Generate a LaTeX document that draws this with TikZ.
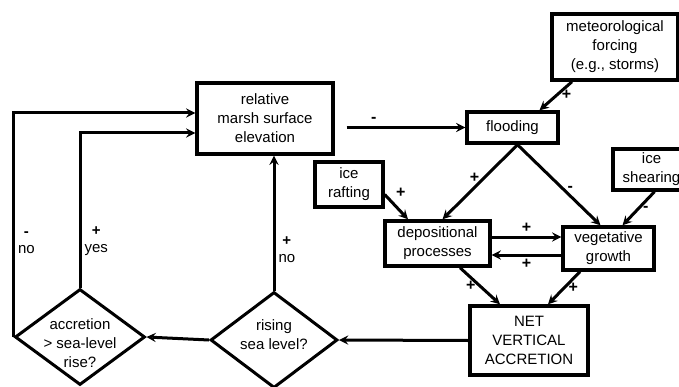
\documentclass[tikz,border=0pt]{standalone}
\usepackage{fontspec}
\setmainfont{Liberation Sans}
\usetikzlibrary{shapes.geometric}

\begin{document}
\begin{tikzpicture}[x=1pt,y=1pt,
    every node/.style={font=\fontsize{15}{19}\selectfont},
    box/.style={draw,line width=3.4pt,align=center,inner sep=0pt},
    decision/.style={draw,diamond,line width=3pt,inner sep=0pt},
    arr/.style={->,>=stealth,line width=3pt},
    sign/.style={inner sep=3pt,align=center,font=\fontsize{16}{17}\selectfont\bfseries},
    answer/.style={inner sep=3pt,align=center,font=\fontsize{15}{17}\selectfont}]
    \useasboundingbox (0,0) rectangle (679,386);
    \node[box,minimum width=136pt,minimum height=71pt] (rel) at (265,267.5) {relative\\marsh surface\\elevation};
    \node[box,minimum width=91pt,minimum height=31pt] (flood) at (512.5,258.5) {flooding};
    \node[box,minimum width=126pt,minimum height=66pt] (met) at (615,339) {meteorological\\forcing\\(e.g., storms)};
    \node[box,minimum width=68pt,minimum height=45pt] (raft) at (349,201.5) {ice\\rafting};
    \node[box,minimum width=77pt,minimum height=41pt] (shear) at (651.5,216.5) {ice\\shearing};
    \node[box,minimum width=105pt,minimum height=45pt] (dep) at (437.5,142.5) {depositional\\processes};
    \node[box,minimum width=91pt,minimum height=43pt] (veg) at (608.5,137.5) {vegetative\\growth};
    \node[box,minimum width=118pt,minimum height=69pt] (net) at (529,45.5) {NET\\VERTICAL\\ACCRETION};
    \node[decision,minimum width=130pt,minimum height=96pt] (acc) at (80,49) {};
    \node[align=center] (acctext) at (80,43) {accretion\\> sea-level\\rise?};
    \node[decision,minimum width=127pt,minimum height=96pt] (rise) at (274,46) {};
    \node[align=center] (risetext) at (274,51) {rising\\sea level?};
    \coordinate (in1) at ([yshift=5.5pt]rel.west);
    \coordinate (in2) at ([yshift=-14.5pt]rel.west);
    \coordinate (d1) at ([yshift=6.5pt]dep.east);
    \coordinate (d2) at ([yshift=-11.5pt]dep.east);
    \draw[arr,shorten <=12pt] (flood.west -| rel.east) -- node[sign,above,pos=0.3] (s1) {-} (flood.west);
    \draw[arr] ([xshift=-43pt]met.south) -- node[sign,right,pos=0.45] (s2) {+} ([xshift=27pt]flood.north);
    \draw[arr] ([xshift=5pt]flood.south) -- node[sign,left,pos=0.45] (s3) {+} ([xshift=5pt]dep.north);
    \draw[arr] ([xshift=5pt]flood.south) -- node[sign,right,pos=0.55] (s4) {-} ([xshift=-8pt]veg.north);
    \draw[arr] ([yshift=-10pt]raft.east) -- node[sign,above right,pos=0.3] (s5) {+} ([xshift=-29.5pt]dep.north);
    \draw[arr] ([xshift=3pt]shear.south) -- node[sign,right,pos=0.5] (s6) {-} ([xshift=14pt]veg.north);
    \draw[arr] (d1) -- node[sign,above] (s7) {+} (d1 -| veg.west);
    \draw[arr] (d2 -| veg.west) -- node[sign,below] (s8) {+} (d2);
    \draw[arr] ([xshift=22.5pt]dep.south) -- node[sign,left,pos=0.5] (s9) {+} ([xshift=-29pt]net.north);
    \draw[arr] ([xshift=-28.5pt]veg.south) -- node[sign,right,pos=0.5] (s10) {+} ([xshift=19pt]net.north);
    \draw[arr] (net.west) -- (rise.east);
    \draw[arr] (rise.west) -- (acc.east);
    \draw[arr] (rise.north) -- node[answer,right,pos=0.3] (s11) {\textbf{+}\\no} (rise.north |- rel.south);
    \draw[arr] (acc.north) |- node[answer,right,pos=0.15] (s12) {\textbf{+}\\yes} (in2);
    \draw[arr] (acc.west) |- node[answer,right,pos=0.21] (s13) {\textbf{-}\\no} (in1);
\end{tikzpicture}
\end{document}
